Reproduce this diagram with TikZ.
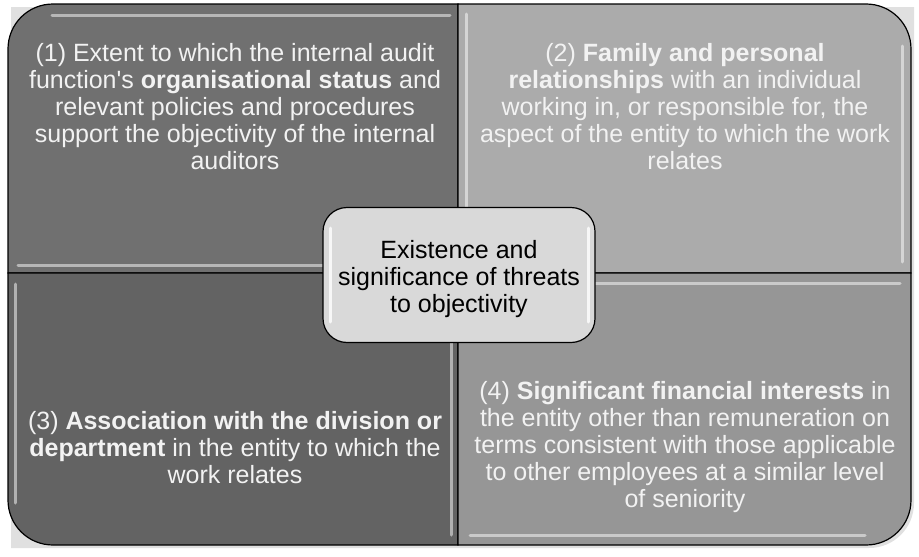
\documentclass[tikz,border=0pt]{standalone}
\usepackage{fontspec}
\setmainfont{Liberation Sans}[Ligatures=TeXOff]
\usepackage{tikz}

\definecolor{quadone}{gray}{0.44}
\definecolor{quadtwo}{gray}{0.67}
\definecolor{quadthree}{gray}{0.39}
\definecolor{quadfour}{gray}{0.59}
\definecolor{centrefill}{gray}{0.85}

\begin{document}
\begin{tikzpicture}[x=1pt,y=-1pt]
\tikzstyle{every node} = [font = \fontsize{25}{27}\selectfont]
\tikzstyle{quad} = [draw = black, line width = 1.2pt]
\tikzstyle{quadtext} = [text = white!95!black, align = center]
\tikzstyle{gloss} = [draw = white, line width = 3pt, line cap = round, opacity = 0.5]
\useasboundingbox (0,0) rectangle (919,557);
% soft shadow
\fill[black!12] (11,7) -- (914,7) -- (914,503) .. controls (914,528) and (894,548) .. (869,548) -- (11,548) -- cycle;
% (1) top left
\draw[quad, fill = quadone] (458,273) -- (8,273) -- (8,49) .. controls (8,24) and (28,4) .. (53,4) -- (458,4) -- cycle;
% (2) top right
\draw[quad, fill = quadtwo] (458,4) -- (866,4) .. controls (891,4) and (911,24) .. (911,49) -- (911,273) -- (458,273) -- cycle;
% (3) bottom left
\draw[quad, fill = quadthree] (8,273) -- (458,273) -- (458,545) -- (53,545) .. controls (28,545) and (8,525) .. (8,500) -- cycle;
% (4) bottom right
\draw[quad, fill = quadfour] (458,273) -- (911,273) -- (911,500) .. controls (911,525) and (891,545) .. (866,545) -- (458,545) -- cycle;
% highlights
\draw[gloss] (52,15) -- (450,15);
\draw[gloss] (18,265) -- (450,265);
\draw[gloss] (466,14) -- (466,262);
\draw[gloss] (902,46) -- (902,262);
\draw[gloss] (15,284) -- (15,503);
\draw[gloss] (451,284) -- (451,535);
\draw[gloss] (468,283) -- (900,283);
\draw[gloss] (470,535) -- (865,535);
% texts
\node[quadtext] (status) at (235,107) {(1) Extent to which the internal audit\\
	function's \textbf{organisational status} and\\
	relevant policies and procedures\\
	support the objectivity of the internal\\
	auditors};
\node[quadtext] (family) at (685,107) {(2) \textbf{Family and personal}\\
	\textbf{relationships} with an individual\\
	working in, or responsible for, the\\
	aspect of the entity to which the work\\
	relates};
\node[quadtext] (division) at (235,448) {(3) \textbf{Association with the division or}\\
	\textbf{department} in the entity to which the\\
	work relates};
\node[quadtext] (interests) at (685,447) {(4) \textbf{Significant financial interests} in\\
	the entity other than remuneration on\\
	terms consistent with those applicable\\
	to other employees at a similar level\\
	of seniority};
% centre
\node[draw, line width = 1.2pt, fill = centrefill, rounded corners = 24pt,
	minimum width = 272pt, minimum height = 135pt] (threats) at (459,275) {};
\node[align = center] (threatstext) at (459,279) {Existence and\\ significance of threats\\ to objectivity};
\draw[gloss, opacity = 0.8] (330,228) -- (330,322);
\draw[gloss, opacity = 0.8] (588,228) -- (588,322);
\end{tikzpicture}
\end{document}
